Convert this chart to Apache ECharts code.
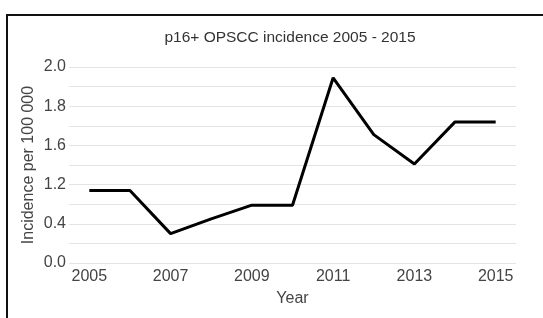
<!DOCTYPE html>
<html>
<head>
<meta charset="utf-8">
<script src="https://cdn.jsdelivr.net/npm/echarts@6/dist/echarts.min.js"></script>
<style>
  html, body { margin: 0; padding: 0; background: #fff; overflow: hidden; }
  #chart { position: absolute; left: 0; top: 0; width: 543px; height: 318px; }
  #frame {
    position: absolute; left: 6px; top: 14px; width: 600px; height: 400px;
    border-top: 2px solid #111; border-left: 2px solid #111; pointer-events: none;
  }
</style>
</head>
<body>
<div id="chart"></div>
<div id="frame"></div>
<script>
// categories
const years = ['2005', '2006', '2007', '2008', '2009', '2010', '2011', '2012', '2013', '2014', '2015']
// values in axis units (read from the plotted positions)
const incidence = [0.74, 0.74, 0.30, 0.45, 0.59, 0.59, 1.89, 1.31, 1.01, 1.44, 1.44]
// tick labels as printed on the original axis
const yTickLabels = ['0.0', '0.4', '1.2', '1.6', '1.8', '2.0']

const chart = echarts.init(document.getElementById('chart'))
const font = '"Liberation Sans", Arial, Helvetica, sans-serif'

const option = {
  animation: false,
  title: {
    text: 'p16+ OPSCC incidence 2005 - 2015',
    left: 285,
    textAlign: 'center',
    top: 25,
    textStyle: { fontSize: 15.5, fontWeight: 'normal', color: '#333', fontFamily: font }
  },
  grid: { left: 69, right: 27, top: 67, bottom: 55 },
  xAxis: {
    type: 'category',
    data: years,
    boundaryGap: true,
    name: 'Year',
    nameLocation: 'middle',
    nameGap: 28,
    nameTextStyle: { fontSize: 16, color: '#444', fontFamily: font },
    axisLine: { show: false },
    axisTick: { show: false },
    axisLabel: { interval: 1, fontSize: 16, color: '#444', margin: 6, fontFamily: font },
    splitLine: { show: false }
  },
  yAxis: {
    type: 'value',
    min: 0,
    max: 2.0,
    interval: 0.4,
    name: 'Incidence per 100 000',
    nameLocation: 'middle',
    nameGap: 32,
    nameMoveOverlap: false,
    nameTextStyle: { fontSize: 16, color: '#444', fontFamily: font },
    axisLine: { show: false },
    axisTick: { show: false },
    axisLabel: {
      fontSize: 16,
      color: '#444',
      margin: 3,
      fontFamily: font,
      formatter: function(value) {
        return yTickLabels[Math.round(value / 0.4)]
      }
    },
    splitLine: { lineStyle: { color: '#e4e4e4', width: 1 } },
    minorTick: { show: false, splitNumber: 2 },
    minorSplitLine: { show: true, lineStyle: { color: '#e4e4e4', width: 1 } }
  },
  series: [
    {
      type: 'line',
      data: incidence,
      showSymbol: false,
      symbol: 'none',
      lineStyle: { color: '#000', width: 3 },
      itemStyle: { color: '#000' }
    }
  ]
}
chart.setOption(option)
</script>
</body>
</html>
